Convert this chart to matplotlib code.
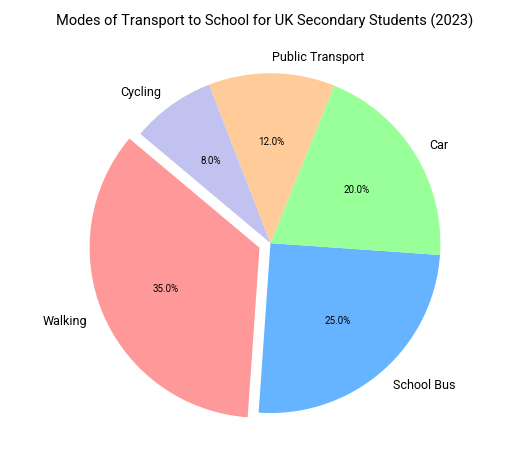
import matplotlib
matplotlib.use('Agg')
from matplotlib import pyplot as plt

plt.rcParams['font.family'] = ['Roboto', 'DejaVu Sans']

modes = ['Walking', 'School Bus', 'Car', 'Public Transport', 'Cycling']
shares = [35, 25, 20, 12, 8]
colors = ['#ff9999', '#66b3ff', '#99ff99', '#ffcc99', '#c2c2f0']
explode = [0.07, 0, 0, 0, 0]

fig, ax = plt.subplots(figsize=(5.3, 4.56), dpi=100)
wedges, texts, autotexts = ax.pie(shares, labels=modes, colors=colors, explode=explode,
                                  autopct='%1.1f%%', startangle=140, labeldistance=1.1)
for t in texts:
    t.set_fontsize(9)
for t in autotexts:
    t.set_fontsize(7)
fig.suptitle('Modes of Transport to School for UK Secondary Students (2023)', fontsize=10.5, y=0.97)
ax.axis('equal')
plt.subplots_adjust(left=0.03, right=0.97, top=0.875, bottom=0.045)
plt.savefig('out.png', dpi=100)
